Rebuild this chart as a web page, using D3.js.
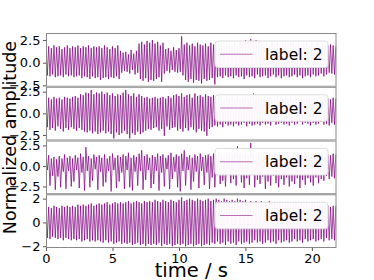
<!DOCTYPE html>
<html>
<head>
<meta charset="utf-8">
<script src="https://cdn.jsdelivr.net/npm/d3@7"></script>
<style>
  body { margin: 0; background: #fff; }
  text { font-family: "DejaVu Sans", sans-serif; }
</style>
</head>
<body>
<div class="canvas"></div>
<script>
const dt = 0.1;

const sig1 = [
  1.7,-1.4, 1.8,-1.5, 1.6,-1.3, 1.9,-1.6, 1.7,-1.5, 1.8,-1.4, 1.5,-1.6, 1.7,-1.3, 1.9,-1.5, 1.6,-1.4,
  1.8,-1.6, 1.7,-1.5, 1.9,-1.4, 1.6,-1.7, 1.8,-1.5, 1.7,-1.6, 1.9,-1.8, 1.6,-1.5, 1.8,-1.7, 1.7,-1.6,
  1.8,-1.9, 1.6,-1.7, 1.9,-1.6, 1.7,-1.8, 1.5,-1.6, 1.8,-1.7, 1.6,-1.5, 1.9,-1.8, 1.3,-1.1, 1.1,-0.9,
  1.2,-1.0, 0.9,-1.2, 1.4,-0.8, 1.0,-1.3, 1.3,-1.1, 2.1,-1.8, 2.3,-2.0, 2.0,-1.7, 2.4,-2.1, 2.2,-1.9,
  2.5,-2.0, 2.1,-1.8, 2.3,-1.6, 1.9,-2.1, 2.2,-1.2, 1.5,-0.9, 1.6,-1.1, 1.3,-0.8, 1.7,-1.0, 1.4,-1.1,
  1.6,-1.0, 2.9,-1.4, 2.0,-1.9, 2.2,-2.1, 1.9,-1.8, 2.1,-2.2, 1.8,-1.9, 2.2,-2.0, 2.0,-2.3, 1.9,-1.8,
  2.1,-2.0, 1.8,-1.9, 2.2,-1.7, 2.0,-2.4, 1.9,-1.6, 2.1,-1.5, 2.2,-1.7, 1.8,-1.4, 2.0,-1.6, 2.1,-1.5,
  1.9,-1.7, 2.2,-1.4, 2.0,-1.6, 2.3,-1.5, 2.1,-1.8, 2.5,-1.4, 2.4,-1.6, 2.6,-1.5, 2.3,-1.7, 2.5,-1.3,
  2.4,-1.6, 2.2,-1.5, 2.0,-1.4, 2.1,-1.7, 1.9,-1.5, 2.2,-1.3, 2.0,-1.6, 2.1,-1.4, 1.8,-1.7, 2.0,-1.5,
  2.1,-1.4, 1.9,-1.6, 2.2,-1.5, 2.0,-1.3, 1.8,-1.6, 2.1,-1.4, 1.9,-1.7, 2.0,-1.5, 2.2,-1.4, 1.9,-1.6,
  2.0,-1.3, 1.8,-1.5, 2.1,-1.4, 1.9,-1.2, 2.0,-1.5, 1.8,-1.3, 1.9,-1.1, 2.0,-1.2, 1.9,-1.3, 1.8
];

const sig2 = [
  1.7,-1.6, 1.8,-1.9, 1.6,-1.7, 1.9,-2.0, 1.7,-1.5, 1.8,-1.8, 1.6,-2.1, 1.9,-1.7, 1.8,-1.9, 1.7,-1.6,
  1.9,-1.8, 2.0,-2.0, 1.8,-1.7, 2.2,-1.9, 2.1,-2.1, 2.4,-2.2, 2.3,-2.0, 2.7,-2.3, 2.2,-2.1, 2.4,-2.4,
  2.3,-2.2, 2.5,-2.0, 2.2,-2.3, 2.4,-2.1, 2.1,-2.4, 2.3,-2.9, 2.0,-2.2, 2.2,-2.5, 2.1,-2.3, 2.4,-2.0,
  2.7,-2.4, 2.2,-2.9, 2.0,-2.3, 2.3,-2.5, 1.9,-2.1, 2.2,-2.4, 2.0,-2.2, 1.8,-2.0, 1.9,-1.8, 1.7,-1.9,
  1.8,-1.7, 1.9,-1.6, 1.7,-2.0, 1.8,-1.8, 1.9,-2.6, 1.7,-1.5, 2.0,-1.9, 1.8,-1.7, 2.1,-1.6, 2.2,-2.0,
  2.0,-1.8, 2.3,-2.1, 1.9,-1.7, 2.1,-2.0, 2.2,-1.6, 1.8,-1.9, 2.3,-2.2, 2.0,-1.8, 2.1,-2.0, 1.9,-2.1,
  2.2,-2.6, 2.0,-1.8, 1.9,-1.6, 2.1,-1.4, 1.8,-1.5, 2.0,-1.3, 1.9,-1.6, 1.7,-1.2, 2.0,-1.4, 1.8,-1.3,
  1.9,-1.5, 1.7,-1.2, 2.0,-1.4, 1.8,-1.3, 1.9,-1.1, 2.1,-1.5, 1.8,-1.2, 2.0,-1.4, 2.3,-1.3, 2.1,-1.2,
  2.0,-1.4, 1.8,-1.1, 1.9,-1.3, 1.7,-1.2, 1.9,-1.4, 1.8,-1.0, 1.7,-1.3, 1.9,-1.2, 1.8,-1.1, 1.6,-1.3,
  1.8,-1.2, 1.7,-1.4, 1.9,-1.1, 1.6,-1.3, 1.8,-1.2, 1.7,-1.0, 1.9,-1.3, 1.6,-1.1, 1.8,-1.2, 1.7,-1.4,
  1.6,-1.1, 1.8,-1.3, 1.7,-1.2, 1.9,-1.0, 1.6,-1.3, 1.8,-1.2, 1.7,-1.4, 1.6,-1.1, 1.8,-1.3, 1.7
];

const sig3 = [
  1.0,-0.5, 1.3,-2.4, 0.9,-1.2, 1.1,-2.9, 0.8,-1.3, 1.2,-2.6, 0.9,-0.7, 1.4,-2.8, 1.0,-0.6, 1.2,-2.5,
  0.9,-1.9, 1.3,-0.5, 1.0,-2.7, 1.5,-0.8, 1.1,-3.0, 2.3,-0.6, 1.2,-2.6, 0.9,-1.8, 1.4,-0.4, 1.1,-2.9,
  1.3,-0.7, 1.0,-2.5, 1.4,-2.0, 0.9,-0.6, 1.2,-3.1, 1.5,-0.5, 1.0,-2.7, 1.3,-1.9, 1.1,-0.8, 1.4,-2.8,
  1.2,-0.5, 1.6,-2.6, 1.0,-3.0, 1.3,-0.7, 1.1,-2.4, 1.5,-0.6, 1.9,-2.9, 1.2,-1.7, 1.4,-0.5, 1.0,-2.7,
  1.3,-2.2, 1.1,-0.6, 1.5,-3.0, 1.2,-0.8, 1.4,-2.5, 1.0,-0.4, 1.3,-2.8, 1.6,-1.6, 1.1,-0.7, 1.4,-2.6,
  1.2,-3.1, 1.5,-0.6, 1.9,-2.4, 1.1,-0.5, 1.3,-2.9, 1.0,-1.9, 1.4,-0.7, 1.2,-2.7, 1.5,-0.6, 1.1,-2.3,
  1.3,-0.8, 1.4,-2.8, 1.2,-1.4, 1.5,-2.6, 1.3,-0.6, 1.6,-2.2, 1.4,-1.8, 1.2,-2.5, 1.5,-0.7, 1.3,-2.1,
  1.4,-1.6, 1.6,-2.4, 2.4,-0.8, 1.5,-2.0, 1.3,-2.7, 1.5,-1.5, 1.4,-2.3, 2.8,-0.9, 1.5,-2.6, 1.3,-1.7,
  1.5,-2.2, 1.4,-1.3, 1.6,-2.8, 1.3,-1.9, 1.5,-2.4, 1.4,-1.2, 1.6,-2.1, 1.3,-2.6, 1.5,-1.6, 1.4,-2.3,
  1.3,-1.4, 1.5,-2.5, 1.4,-1.9, 1.6,-2.2, 1.3,-1.5, 1.5,-2.7, 1.4,-1.7, 1.3,-2.3, 1.5,-1.5, 1.4,-2.0,
  1.5,-2.4, 1.3,-1.4, 1.4,-2.1, 1.6,-1.6, 1.3,-1.8, 1.5,-1.2, 1.4,-1.6, 1.3,-1.3, 1.5,-1.5, 1.4
];

const sig4 = [
  1.2,-1.3, 1.3,-1.4, 1.2,-1.2, 1.4,-1.3, 1.3,-1.4, 1.2,-1.3, 1.4,-1.5, 1.3,-1.3, 1.4,-1.4, 1.3,-1.5,
  1.4,-1.4, 1.3,-1.5, 1.5,-1.4, 1.4,-1.6, 1.5,-1.5, 1.4,-1.4, 1.5,-1.6, 1.6,-1.5, 1.4,-1.6, 1.5,-1.5,
  1.6,-1.6, 1.5,-1.7, 1.6,-1.5, 1.7,-1.7, 1.5,-1.6, 1.6,-1.8, 1.7,-1.7, 1.6,-1.6, 1.7,-1.8, 1.6,-1.7,
  1.7,-1.8, 1.8,-1.7, 1.6,-1.9, 1.7,-1.8, 1.8,-1.7, 1.7,-1.9, 1.6,-1.8, 1.8,-2.0, 1.7,-1.8, 1.8,-1.9,
  1.7,-1.8, 1.9,-1.9, 1.8,-1.7, 1.7,-2.0, 1.9,-1.8, 1.8,-1.9, 1.7,-1.8, 1.9,-2.0, 1.8,-1.9, 1.7,-1.8,
  1.9,-1.9, 2.1,-1.8, 1.8,-2.0, 1.9,-1.9, 2.0,-1.8, 1.9,-2.0, 1.8,-1.9, 2.0,-1.8, 1.9,-2.0, 1.8,-1.9,
  1.9,-1.8, 2.0,-1.9, 1.8,-1.7, 1.9,-1.8, 2.0,-1.6, 1.9,-1.8, 1.8,-1.7, 2.0,-1.9, 1.9,-1.6, 1.8,-1.8,
  1.9,-1.7, 1.8,-1.9, 2.0,-1.6, 1.9,-1.8, 1.8,-1.7, 1.9,-1.6, 1.7,-1.8, 1.8,-1.7, 1.7,-1.5, 1.8,-1.7,
  1.7,-1.6, 1.8,-1.8, 1.6,-1.7, 1.7,-1.5, 1.8,-1.7, 1.6,-1.6, 1.7,-1.8, 1.6,-1.5, 1.7,-1.7, 1.5,-1.6,
  1.6,-1.5, 1.7,-1.7, 1.5,-1.6, 1.6,-1.4, 1.7,-1.6, 1.5,-1.5, 1.6,-1.7, 1.5,-1.4, 1.6,-1.6, 1.5,-1.5,
  1.6,-1.4, 1.5,-1.6, 1.4,-1.5, 1.5,-1.4, 1.4,-1.6, 1.5,-1.3, 1.4,-1.5, 1.3,-1.4, 1.4,-1.5, 1.4
];

const signals = [sig1, sig2, sig3, sig4];
const yDomains = [[-2.65, 3.27], [-3.14, 3.07], [-3.45, 3.1], [-2.15, 2.37]];
const yTicks = [[-2.5, 0, 2.5], [-2.5, 0, 2.5], [-2.5, 0, 2.5], [-2, 0, 2]];
const yTickFmt = ['.1f', '.1f', '.1f', 'd'];
const xTicks = [0, 5, 10, 15, 20];
const xMax = 21.85;
const legendLabel = 'label: 2';
const xLabel = 'time / s';
const yLabel = 'Normalized amplitude';

const width = 374, height = 280;
const margin = {top: 33, right: 37.5, bottom: 32, left: 46};
const graphWidth = width - margin.left - margin.right;
const panelH = (height - margin.top - margin.bottom) / signals.length;
const lineColor = 'purple';

const svg = d3.select('.canvas')
  .append('svg')
  .attr('width', width)
  .attr('height', height);

const x = d3.scaleLinear().domain([0, xMax]).range([0, graphWidth]);

signals.forEach((sig, k) => {
  const g = svg.append('g')
    .attr('transform', `translate(${margin.left},${margin.top + k * panelH})`);

  const y = d3.scaleLinear().domain(yDomains[k]).range([panelH, 0]);

  g.append('rect').attr('width', graphWidth).attr('height', panelH).attr('fill', '#fff');

  g.append('clipPath').attr('id', 'clip' + k)
    .append('rect').attr('width', graphWidth).attr('height', panelH);

  const line = d3.line()
    .x((d, i) => x(i * dt))
    .y(d => y(d));

  g.append('path')
    .datum(sig)
    .attr('clip-path', `url(#clip${k})`)
    .attr('d', line)
    .attr('fill', 'none')
    .attr('stroke', lineColor)
    .attr('stroke-opacity', 0.72)
    .attr('stroke-width', 1);

  // legend, upper right
  const lg = g.append('g').attr('transform', `translate(${graphWidth - 8.5 - 113},8)`);
  lg.append('rect')
    .attr('width', 113).attr('height', 26.5)
    .attr('rx', 3)
    .attr('fill', '#fff').attr('fill-opacity', 0.95)
    .attr('stroke', '#dcdcdc').attr('stroke-width', 1);
  lg.append('line')
    .attr('x1', 5).attr('x2', 37.5)
    .attr('y1', 13.25).attr('y2', 13.25)
    .attr('stroke', lineColor).attr('stroke-opacity', 0.55).attr('stroke-width', 1);
  lg.append('text')
    .attr('x', 50).attr('y', 13.25).attr('dy', '0.36em')
    .attr('font-size', 15.5)
    .text(legendLabel);

  // y axis
  const yAxis = d3.axisLeft(y)
    .tickValues(yTicks[k])
    .tickSize(3)
    .tickPadding(2.5)
    .tickFormat(d => d3.format(yTickFmt[k])(d).replace('-', '\u2212'));
  const yAxisGroup = g.append('g').call(yAxis);
  yAxisGroup.select('.domain').remove();
  yAxisGroup.selectAll('.tick line').attr('stroke', '#555');
  yAxisGroup.selectAll('.tick text').attr('font-size', 13).attr('fill', '#000')
    .attr('font-family', '"DejaVu Sans", sans-serif');

  if (k === signals.length - 1) {
    const xAxis = d3.axisBottom(x).tickValues(xTicks).tickSize(3).tickPadding(2.5);
    const xAxisGroup = g.append('g').attr('transform', `translate(0,${panelH})`).call(xAxis);
    xAxisGroup.select('.domain').remove();
    xAxisGroup.selectAll('.tick line').attr('stroke', '#555');
    xAxisGroup.selectAll('.tick text').attr('font-size', 13).attr('fill', '#000')
      .attr('font-family', '"DejaVu Sans", sans-serif');
  }

  // frame
  g.append('rect')
    .attr('x', 0.5).attr('y', 0.5)
    .attr('width', graphWidth - 1).attr('height', panelH - 1)
    .attr('fill', 'none')
    .attr('stroke', '#888').attr('stroke-width', 1);
});

svg.append('text')
  .attr('x', margin.left + graphWidth / 2)
  .attr('y', 277)
  .attr('text-anchor', 'middle')
  .attr('font-size', 19.5)
  .text(xLabel);

svg.append('text')
  .attr('transform', 'translate(15.5,137.5) rotate(-90)')
  .attr('text-anchor', 'middle')
  .attr('font-size', 17.5)
  .text(yLabel);
</script>
</body>
</html>
